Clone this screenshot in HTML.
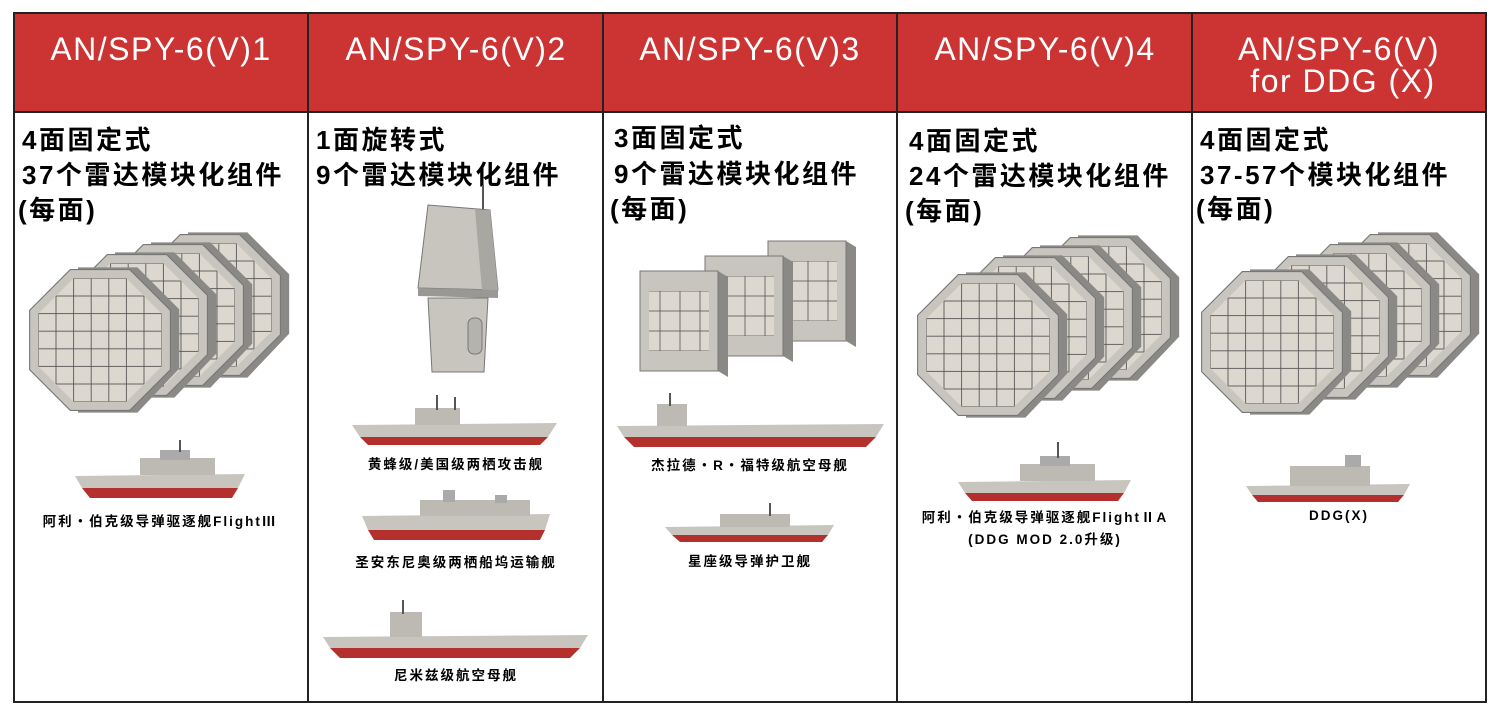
<!DOCTYPE html>
<html><head><meta charset="utf-8"><style>
body{margin:0;background:#fff;}
svg{display:block}
.h{font-family:"Liberation Sans","Noto Sans CJK SC",sans-serif;fill:#fff;font-size:32px;letter-spacing:1.5px;text-anchor:middle}
.b{font-family:"Liberation Sans","Noto Sans CJK SC",sans-serif;fill:#000;font-size:26px;font-weight:bold;letter-spacing:2.5px}
.l{font-family:"Liberation Sans","Noto Sans CJK SC",sans-serif;fill:#000;font-size:13.5px;font-weight:bold;letter-spacing:2px;text-anchor:middle}
</style></head><body>
<svg width="1500" height="718" viewBox="0 0 1500 718" xmlns="http://www.w3.org/2000/svg">
<defs>
<clipPath id="oc"><polygon points="-24,-58 24,-58 58,-24 58,24 24,58 -24,58 -58,24 -58,-24"/></clipPath>
<pattern id="gr" x="-56" y="-56" width="16" height="16" patternUnits="userSpaceOnUse"><rect width="16" height="16" fill="#dcd8d0" stroke="#555" stroke-width="0.8"/></pattern>
<g id="oct0">
<polygon points="-20,-66 34,-66 72,-28 72,26 34,66 -20,66" fill="#8a8985"/>
<polygon points="-27,-64 27,-64 64,-27 64,27 27,64 -27,64 -64,27 -64,-27" fill="#c8c5bf" stroke="#777" stroke-width="1"/>
<g clip-path="url(#oc)"><polygon points="-24,-56 24,-56 56,-24 56,24 24,56 -24,56 -56,24 -56,-24" fill="url(#gr)"/></g>
</g>
<g id="oct"><use href="#oct0" transform="scale(1.1)"/></g>
<pattern id="gs" x="0" y="0" width="20" height="20" patternUnits="userSpaceOnUse"><rect width="20" height="20" fill="#dcd8d0" stroke="#555" stroke-width="0.8"/></pattern>
<g id="box">
<polygon points="78,0 88,6 88,106 78,100" fill="#8a8985"/>
<rect x="0" y="0" width="78" height="100" fill="#c8c5bf" stroke="#777"/>
<rect x="9" y="20" width="60" height="60" fill="url(#gs)"/>
</g>
</defs>
<rect x="0" y="0" width="1500" height="718" fill="#fff"/>
<rect x="14" y="13" width="1472" height="99" fill="#cc3333"/>
<rect x="14" y="13" width="1472" height="689" fill="none" stroke="#222" stroke-width="2"/>
<line x1="14" y1="112" x2="1486" y2="112" stroke="#222" stroke-width="2"/>
<g stroke="#222" stroke-width="2"><line x1="308" y1="13" x2="308" y2="702"/><line x1="603" y1="13" x2="603" y2="702"/><line x1="897" y1="13" x2="897" y2="702"/><line x1="1192" y1="13" x2="1192" y2="702"/></g>
<text class="h" x="161" y="60">AN/SPY-6(V)1</text>
<text class="h" x="456" y="60">AN/SPY-6(V)2</text>
<text class="h" x="750" y="60">AN/SPY-6(V)3</text>
<text class="h" x="1045" y="60">AN/SPY-6(V)4</text>
<text class="h" x="1339" y="60">AN/SPY-6(V)</text>
<text class="h" x="1343" y="92">for DDG (X)</text>
<text class="b" x="22" y="149">4面固定式</text><text class="b" x="22" y="184">37个雷达模块化组件</text><text class="b" x="18" y="219">(每面)</text>
<text class="b" x="316" y="149">1面旋转式</text><text class="b" x="316" y="184">9个雷达模块化组件</text>
<text class="b" x="614" y="147">3面固定式</text><text class="b" x="614" y="183">9个雷达模块化组件</text><text class="b" x="610" y="218">(每面)</text>
<text class="b" x="909" y="150">4面固定式</text><text class="b" x="909" y="185">24个雷达模块化组件</text><text class="b" x="905" y="220">(每面)</text>
<text class="b" x="1200" y="149">4面固定式</text><text class="b" x="1200" y="184">37-57个模块化组件</text><text class="b" x="1196" y="218">(每面)</text>
<use href="#oct" x="210" y="305"/><use href="#oct" x="173" y="315"/><use href="#oct" x="137" y="325"/><use href="#oct" x="100" y="340"/>
<use href="#oct" x="1100" y="308"/><use href="#oct" x="1062" y="318"/><use href="#oct" x="1025" y="328"/><use href="#oct" x="988" y="345"/>
<use href="#oct" x="1400" y="305"/><use href="#oct" x="1360" y="315"/><use href="#oct" x="1318" y="327"/><use href="#oct" x="1272" y="342"/>
<use href="#box" x="768" y="241"/><use href="#box" x="705" y="256"/><use href="#box" x="640" y="271"/>
<line x1="483" y1="185" x2="483" y2="215" stroke="#555" stroke-width="2"/>
<polygon points="428,205 490,210 498,290 418,288" fill="#c8c5bf" stroke="#777"/>
<polygon points="475,210 490,210 498,290 482,290" fill="#a9a7a2"/>
<polygon points="418,288 498,290 498,298 418,296" fill="#9a9894"/>
<path d="M428,298 L488,298 L484,372 L432,372 Z" fill="#c8c5bf" stroke="#777"/>
<rect x="468" y="318" width="14" height="36" rx="6" fill="#b5b3ae" stroke="#777"/>
<g stroke="none">
<polygon points="75,476 245,474 238,488 82,488" fill="#c8c5bf"/><polygon points="82,488 238,488 232,498 90,498" fill="#b3302c"/>
<rect x="140" y="458" width="75" height="17" fill="#bdbab4"/><rect x="160" y="450" width="30" height="10" fill="#aaa"/><line x1="180" y1="440" x2="180" y2="452" stroke="#555" stroke-width="2"/>
<polygon points="352,425 557,423 548,437 360,437" fill="#c8c5bf"/><polygon points="360,437 548,437 540,445 368,445" fill="#b3302c"/>
<rect x="415" y="408" width="45" height="17" fill="#bdbab4"/><line x1="437" y1="395" x2="437" y2="410" stroke="#555" stroke-width="2"/><line x1="455" y1="397" x2="455" y2="410" stroke="#555" stroke-width="2"/>
<polygon points="362,516 550,514 545,530 368,530" fill="#c8c5bf"/><polygon points="368,530 545,530 540,540 374,540" fill="#b3302c"/>
<rect x="420" y="500" width="110" height="16" fill="#bdbab4"/><rect x="443" y="490" width="12" height="12" fill="#aaa"/><rect x="495" y="495" width="12" height="8" fill="#aaa"/>
<polygon points="323,637 588,635 580,648 330,648" fill="#c8c5bf"/><polygon points="330,648 580,648 570,658 340,658" fill="#b3302c"/>
<rect x="390" y="612" width="32" height="25" fill="#bdbab4"/><line x1="403" y1="600" x2="403" y2="614" stroke="#555" stroke-width="2"/>
<polygon points="617,426 884,424 876,437 624,437" fill="#c8c5bf"/><polygon points="624,437 876,437 866,447 634,447" fill="#b3302c"/>
<rect x="657" y="404" width="30" height="22" fill="#bdbab4"/><line x1="670" y1="393" x2="670" y2="406" stroke="#555" stroke-width="2"/>
<polygon points="665,527 834,525 828,535 672,535" fill="#c8c5bf"/><polygon points="672,535 828,535 822,542 680,542" fill="#b3302c"/>
<rect x="720" y="514" width="70" height="13" fill="#bdbab4"/><line x1="770" y1="503" x2="770" y2="516" stroke="#555" stroke-width="2"/>
<polygon points="958,482 1131,480 1124,493 965,493" fill="#c8c5bf"/><polygon points="965,493 1124,493 1118,501 972,501" fill="#b3302c"/>
<rect x="1020" y="464" width="75" height="17" fill="#bdbab4"/><rect x="1040" y="456" width="30" height="10" fill="#aaa"/><line x1="1058" y1="442" x2="1058" y2="458" stroke="#555" stroke-width="2"/>
<polygon points="1246,486 1410,484 1404,495 1252,495" fill="#c8c5bf"/><polygon points="1252,495 1404,495 1398,502 1258,502" fill="#b3302c"/>
<rect x="1290" y="466" width="80" height="20" fill="#bdbab4"/><rect x="1345" y="455" width="16" height="12" fill="#aaa"/>
</g>
<text class="l" x="160" y="526">阿利・伯克级导弹驱逐舰FlightⅢ</text>
<text class="l" x="456" y="469">黄蜂级/美国级两栖攻击舰</text>
<text class="l" x="456" y="567">圣安东尼奥级两栖船坞运输舰</text>
<text class="l" x="456" y="680">尼米兹级航空母舰</text>
<text class="l" x="750" y="470">杰拉德・R・福特级航空母舰</text>
<text class="l" x="750" y="566">星座级导弹护卫舰</text>
<text class="l" x="1045" y="522">阿利・伯克级导弹驱逐舰FlightⅡA</text>
<text class="l" x="1045" y="544">(DDG MOD 2.0升级)</text>
<text class="l" x="1339" y="520">DDG(X)</text>
</svg>
</body></html>
